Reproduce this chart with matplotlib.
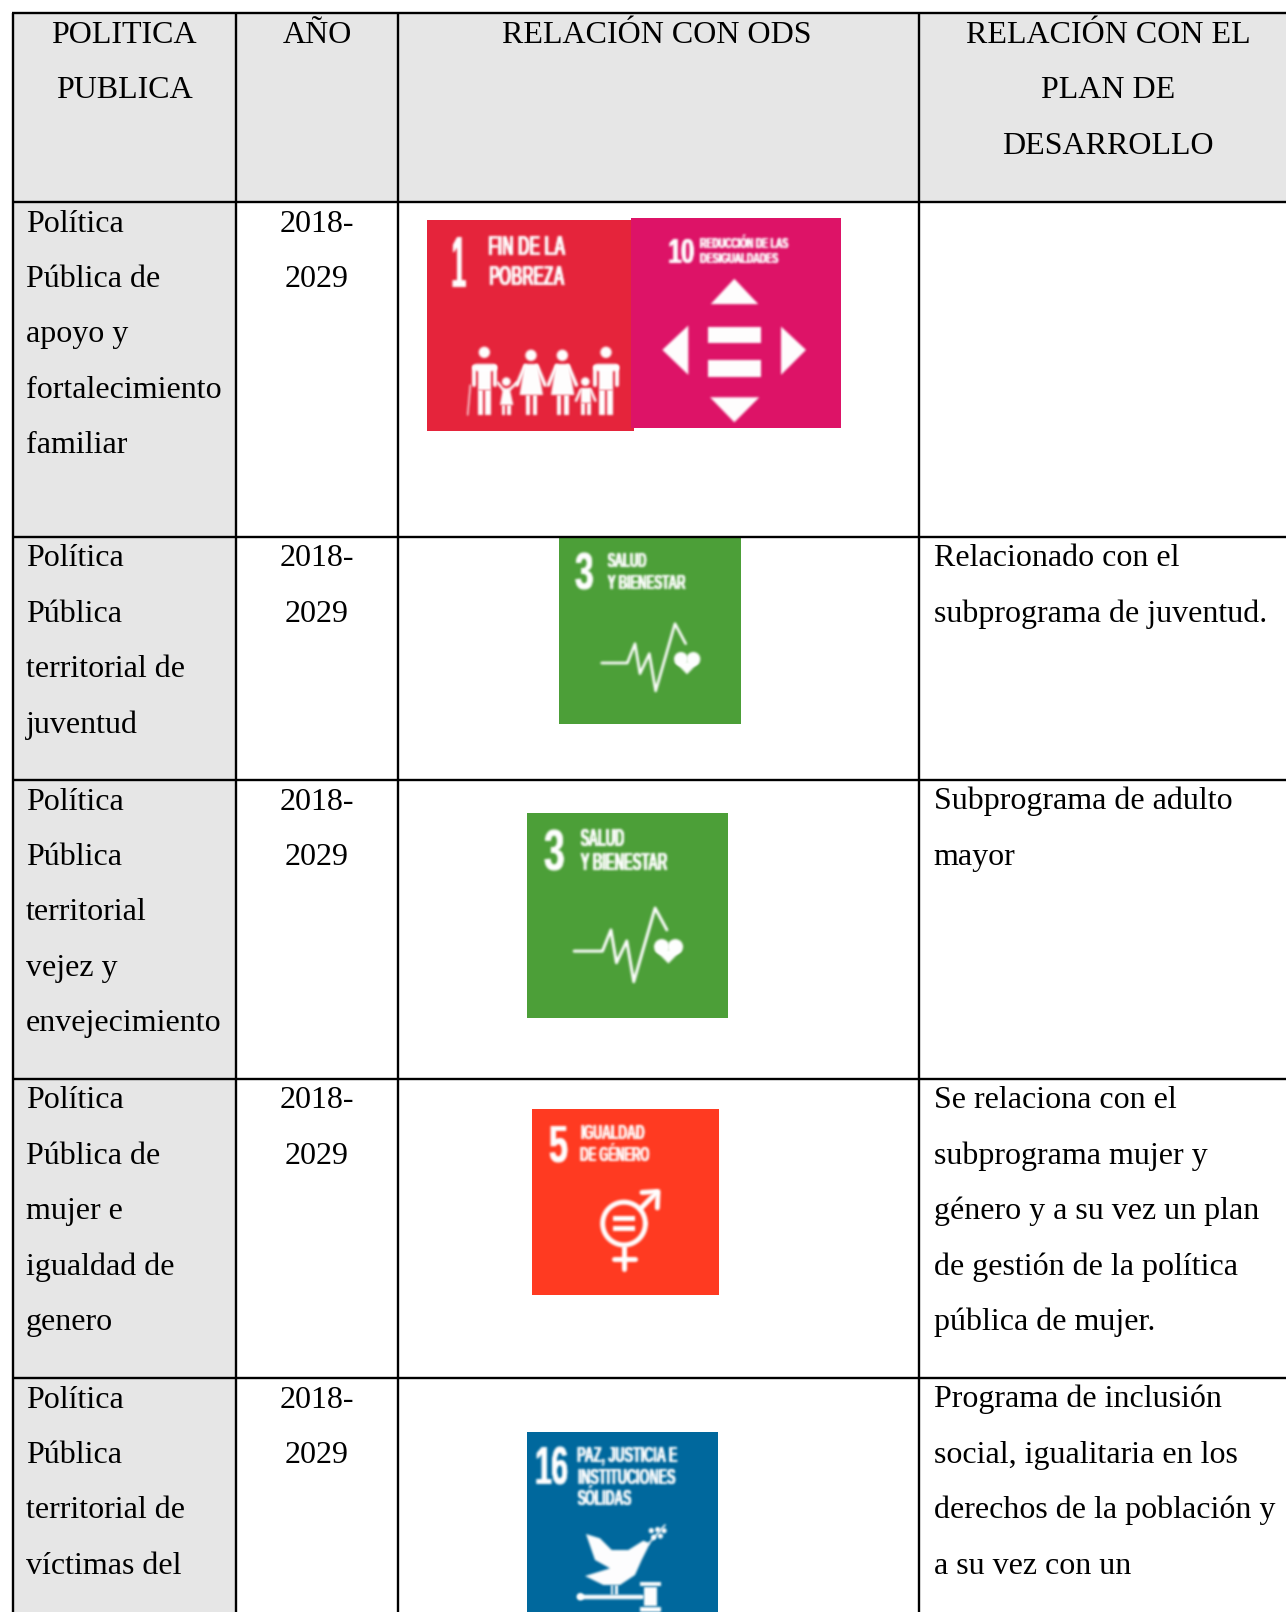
#tabla politicas publicas y ODS

import matplotlib
matplotlib.use('Agg')
import matplotlib.pyplot as plt
from matplotlib.patches import Rectangle, Circle, Polygon
from matplotlib.text import Text
from matplotlib.transforms import Affine2D, Bbox
import numpy as np

# contenido de la tabla
headers = [["POLITICA", "PUBLICA"], ["AÑO"], ["RELACIÓN CON ODS"],
           ["RELACIÓN CON EL", "PLAN DE", "DESARROLLO"]]
politicas = [
    ["Política", "Pública de", "apoyo y", "fortalecimiento", "familiar"],
    ["Política", "Pública", "territorial de", "juventud"],
    ["Política", "Pública", "territorial", "vejez y", "envejecimiento"],
    ["Política", "Pública de", "mujer e", "igualdad de", "genero"],
    ["Política", "Pública", "territorial de", "víctimas del"],
]
anios = ["2018-", "2029"]
relacion_plan = [
    [],
    ["Relacionado con el", "subprograma de juventud."],
    ["Subprograma de adulto", "mayor"],
    ["Se relaciona con el", "subprograma mujer y", "género y a su vez un plan",
     "de gestión de la política", "pública de mujer."],
    ["Programa de inclusión", "social, igualitaria en los",
     "derechos de la población y", "a su vez con un"],
]

# geometria de la pagina en pixeles
W, H = 1286, 1612
col_x = [12.5, 236, 398, 919]
row_y = [13, 202, 537, 780, 1079, 1378]
LINE = 55.4
FS = 23.0
GRIS = '#e6e6e6'
SERIF = ['Liberation Serif', 'DejaVu Serif']
SANS = ['Liberation Sans', 'DejaVu Sans']

fig = plt.figure(figsize=(W / 100, H / 100), dpi=100)
ax = fig.add_axes([0, 0, 1, 1])
ax.set_xlim(0, W)
ax.set_ylim(H, 0)
ax.axis('off')
renderer = fig.canvas.get_renderer()


def blur_alpha(alpha, pad=3):
    alpha = np.pad(alpha, pad)
    kernel = np.array([0.1, 0.22, 0.36, 0.22, 0.1])
    alpha = np.apply_along_axis(lambda a: np.convolve(a, kernel, mode='same'), 0, alpha)
    alpha = np.apply_along_axis(lambda a: np.convolve(a, kernel, mode='same'), 1, alpha)
    out = np.ones(alpha.shape + (4,))
    out[:, :, 3] = alpha
    return out, -pad, -pad


def blur(image, dpi):
    # desenfoque suave, los iconos del original son imagenes de baja resolucion
    return blur_alpha(image[:, :, 3])


def squeeze_blur(factor):
    # las letras de los iconos son muy condensadas, se comprime en horizontal
    def apply(image, dpi):
        alpha = image[:, :, 3]
        n = alpha.shape[1]
        m = max(1, int(round(n * factor)))
        old = np.arange(n)
        new = np.linspace(0, n - 1, m)
        narrow = np.array([np.interp(new, old, row) for row in alpha])
        # al comprimir se pierde grosor, se recupera ensanchando un pixel
        wide = np.pad(narrow, ((0, 0), (0, 1)))
        wide = np.maximum(wide, np.roll(wide, 1, axis=1))
        return blur_alpha(np.minimum(wide * 1.15, 1))
    return apply


class NarrowText(Text):
    # texto comprimido, la caja informa de donde queda la tinta de verdad
    squeeze = 1.0

    def get_window_extent(self, renderer=None, dpi=None):
        bb = super().get_window_extent(renderer, dpi)
        return Bbox.from_extents(bb.x0, bb.y0, bb.x0 + bb.width * self.squeeze, bb.y1)


class Icon:
    # cada icono se dibuja en sus propias coordenadas de diseno
    def __init__(self, box, size, color):
        x0, y0, x1, y1 = box
        self.k = (x1 - x0) / size[0]
        self.tf = Affine2D().scale(self.k, (y1 - y0) / size[1]).translate(x0, y0) + ax.transData
        ax.add_patch(Rectangle((x0, y0), x1 - x0, y1 - y0, fc=color, ec='none', zorder=2))

    def add(self, patch):
        patch.set(transform=self.tf, fc='white', ec='none', zorder=3, agg_filter=blur)
        ax.add_patch(patch)

    def rect(self, x0, y0, x1, y1):
        self.add(Rectangle((x0, y0), x1 - x0, y1 - y0))

    def poly(self, pts):
        self.add(Polygon(pts, closed=True))

    def circle(self, x, y, r):
        self.add(Circle((x, y), r))

    def line(self, pts, width):
        xs, ys = zip(*pts)
        ax.plot(xs, ys, color='white', lw=width * self.k * 0.72, transform=self.tf, zorder=3,
                solid_capstyle='round', solid_joinstyle='round', agg_filter=blur)

    def text(self, x, y, s, cap, width):
        t = NarrowText(x, y, s, transform=self.tf, color='white', fontsize=cap * self.k * 1.02,
                       verticalalignment='baseline', horizontalalignment='left',
                       family=SANS, fontweight='bold', zorder=3)
        ax.add_artist(t)
        t.squeeze = min(1.0, width * self.k / t.get_window_extent(renderer).width)
        t.set_agg_filter(squeeze_blur(t.squeeze))


def icon_pobreza(box):
    ic = Icon(box, (621, 633), '#e5243b')
    ic.text(62, 202, "1", 152, 47)
    ic.text(181, 105, "FIN DE LA", 60, 233)
    ic.text(181, 195, "POBREZA", 60, 228)
    # adultos de los extremos
    for cx in (172, 537):
        ic.circle(cx, 397, 17)
        ic.line([(cx - 26, 440), (cx + 26, 440)], 22)
        ic.rect(cx - 20, 440, cx + 20, 510)
        ic.line([(cx - 32, 440), (cx - 32, 495)], 12)
        ic.line([(cx + 32, 440), (cx + 32, 495)], 12)
        ic.rect(cx - 20, 510, cx - 3, 585)
        ic.rect(cx + 3, 510, cx + 20, 585)
    ic.line([(130, 495), (122, 585)], 4)
    # mujeres
    for cx in (312, 406):
        ic.circle(cx, 406, 17)
        ic.poly([(cx - 20, 432), (cx + 20, 432), (cx + 36, 525), (cx - 34, 525)])
        ic.rect(cx - 16, 525, cx - 3, 585)
        ic.rect(cx + 6, 525, cx + 19, 585)
        ic.line([(cx - 18, 438), (cx - 42, 495)], 11)
        ic.line([(cx + 18, 438), (cx + 42, 495)], 11)
    # ninos
    ic.circle(238, 485, 13)
    ic.poly([(228, 505), (248, 505), (259, 555), (219, 555)])
    ic.rect(224, 555, 235, 585)
    ic.rect(241, 555, 252, 585)
    ic.line([(230, 510), (212, 488)], 8)
    ic.line([(246, 510), (270, 488)], 8)
    ic.circle(475, 485, 13)
    ic.rect(461, 505, 491, 550)
    ic.rect(462, 550, 474, 585)
    ic.rect(479, 550, 491, 585)
    ic.line([(461, 510), (447, 542)], 8)
    ic.line([(491, 510), (505, 542)], 8)


def icon_desigualdad(box):
    ic = Icon(box, (630, 629), '#dd1367')
    ic.text(107, 135, "10", 75, 80)
    ic.text(204, 90, "REDUCCIÓN DE LAS", 32, 266)
    ic.text(204, 135, "DESIGUALDADES", 32, 236)
    ic.poly([(310, 182), (239, 258), (382, 258)])
    ic.poly([(172, 322), (172, 470), (94, 395)])
    ic.poly([(450, 325), (450, 470), (525, 395)])
    ic.poly([(237, 537), (385, 537), (310, 612)])
    ic.rect(230, 325, 390, 375)
    ic.rect(230, 425, 390, 477)


def icon_salud(box):
    ic = Icon(box, (546, 561), '#4c9f38')
    ic.text(43, 158, "3", 110, 58)
    ic.text(143, 90, "SALUD", 44, 120)
    ic.text(143, 157, "Y BIENESTAR", 44, 235)
    ic.line([(128, 378), (205, 378), (228, 320), (243, 410), (271, 350), (290, 462),
             (348, 260), (380, 320)], 8)
    ic.circle(366, 366, 21)
    ic.circle(403, 366, 21)
    ic.poly([(347, 374), (421, 374), (384, 412)])


def icon_genero(box):
    ic = Icon(box, (561, 557), '#ff3a21')
    ic.text(46, 156, "5", 110, 58)
    ic.text(142, 90, "IGUALDAD", 44, 192)
    ic.text(142, 155, "DE GÉNERO", 44, 208)
    th = np.linspace(0, 2 * np.pi, 80)
    ic.line(list(zip(276 + 64 * np.cos(th), 343 + 64 * np.sin(th))), 15)
    ic.rect(244, 321, 309, 335)
    ic.rect(244, 351, 309, 365)
    ic.line([(276, 413), (276, 478)], 15)
    ic.line([(247, 448), (310, 448)], 15)
    ic.line([(327, 297), (372, 252)], 15)
    ic.line([(330, 250), (378, 247), (376, 296)], 15)


def icon_paz(box):
    ic = Icon(box, (573, 573), '#00689d')
    ic.text(16, 157, "16", 115, 103)
    ic.text(147, 89, "PAZ, JUSTICIA E", 46, 303)
    ic.text(147, 157, "INSTITUCIONES", 46, 295)
    ic.text(147, 219, "SÓLIDAS", 46, 165)
    ic.poly([(177, 306), (219, 319), (254, 354), (304, 354), (349, 326), (369, 334), (344, 384),
             (324, 429), (279, 459), (229, 459), (174, 432), (249, 409), (204, 384)])
    ic.line([(364, 336), (414, 279)], 5)
    for lx, ly in [(373, 296), (392, 293), (380, 316), (400, 312), (411, 296)]:
        ic.circle(lx, ly, 8)
    ic.rect(251, 459, 258, 490)
    ic.rect(265, 459, 272, 490)
    ic.line([(160, 494), (345, 494)], 13)
    ic.circle(160, 494, 11)
    ic.rect(339, 449, 401, 461)
    ic.rect(350, 465, 390, 522)
    ic.rect(339, 526, 401, 539)


# fondos grises
ax.add_patch(Rectangle((col_x[0], row_y[0]), W - col_x[0], row_y[1] - row_y[0], fc=GRIS, ec='none', zorder=0))
ax.add_patch(Rectangle((col_x[0], row_y[1]), col_x[1] - col_x[0], H - row_y[1], fc=GRIS, ec='none', zorder=0))

# lineas de la tabla
for y in row_y:
    ax.plot([col_x[0] - 1, W], [y, y], color='black', lw=1.7, zorder=4, solid_capstyle='butt')
for x in col_x:
    ax.plot([x, x], [row_y[0], H], color='black', lw=1.7, zorder=4, solid_capstyle='butt')


def cell_text(x, y, lines, ha='left'):
    for i, s in enumerate(lines):
        ax.text(x, y + i * LINE, s, ha=ha, va='baseline', fontsize=FS, family=SERIF, color='black', zorder=5)


# encabezado
header_x = [124, 317, 657, 1108]
for x, lines in zip(header_x, headers):
    cell_text(x, 43, lines, ha='center')

# filas
for i in range(len(politicas)):
    base = row_y[i + 1] + 29.5
    cell_text(26, base, politicas[i])
    cell_text(317, base, anios, ha='center')
    cell_text(933.5, base, relacion_plan[i])

# iconos ODS
icon_pobreza((427, 220, 634, 431))
icon_desigualdad((631, 218, 841, 428))
icon_salud((559, 537, 741, 724))
icon_salud((527, 813, 728, 1018))
icon_genero((532, 1109, 719, 1295))
icon_paz((527, 1432, 718, 1623))

fig.savefig('out.png', dpi=100)
